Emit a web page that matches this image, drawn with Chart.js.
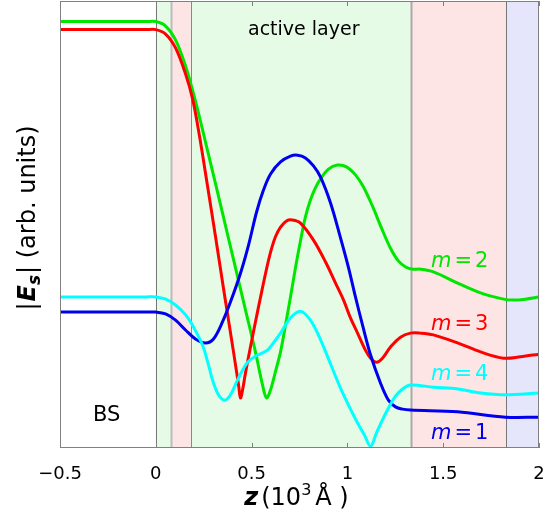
<!DOCTYPE html>
<html>
<head>
<meta charset="utf-8">
<script src="https://cdn.jsdelivr.net/npm/chart.js@4.4.0/dist/chart.umd.min.js"></script>
<style>
  html, body { margin: 0; padding: 0; background: #fff; }
</style>
</head>
<body>
<canvas id="chart" width="545" height="516"></canvas>
<script>
// layer boundaries along z (10^3 Å)
const layerEdges = [0, 0.08, 0.183, 1.33, 1.83];
const zTicks = [-0.5, 0, 0.5, 1, 1.5, 2];

// |E_s| curves (arb. units, 0..100)
const m1Z = [-0.5, -0.05, 0, 0.051, 0.103, 0.155, 0.207, 0.259, 0.301, 0.348, 0.390, 0.442, 0.484, 0.526, 0.562, 0.599, 0.651, 0.703, 0.740, 0.781, 0.823, 0.860, 0.912, 0.964, 1.006, 1.042, 1.079, 1.121, 1.173, 1.214, 1.251, 1.288, 1.329, 1.575, 1.825, 2.0];
const m1E = [30.4, 30.4, 30.4, 30.0, 28.6, 26.4, 24.4, 23.5, 24.4, 28.2, 32.7, 39.1, 45.4, 52.8, 57.7, 61.3, 64.0, 65.3, 65.5, 64.9, 63.1, 60.6, 54.8, 47.0, 40.3, 33.8, 27.5, 20.8, 14.5, 10.7, 9.2, 8.7, 8.5, 8.1, 6.9, 6.9];

const m2Z = [-0.5, -0.05, 0, 0.051, 0.103, 0.155, 0.207, 0.259, 0.312, 0.364, 0.416, 0.468, 0.520, 0.557, 0.578, 0.599, 0.624, 0.651, 0.677, 0.703, 0.729, 0.755, 0.781, 0.807, 0.833, 0.860, 0.901, 0.948, 0.995, 1.042, 1.084, 1.131, 1.178, 1.225, 1.267, 1.304, 1.340, 1.381, 1.449, 1.575, 1.695, 1.815, 1.867, 1.929, 2.0];
const m2E = [95.4, 95.4, 95.4, 94.4, 91.3, 85.5, 77.6, 68.5, 59.1, 49.7, 40.3, 30.9, 21.5, 14.1, 11.2, 13.0, 17.0, 21.5, 27.5, 33.8, 40.3, 46.3, 51.7, 55.5, 58.2, 60.2, 62.4, 63.3, 62.9, 61.1, 58.4, 54.1, 49.2, 44.7, 41.8, 40.5, 40.0, 40.0, 39.4, 36.9, 34.7, 33.3, 33.1, 33.3, 33.8];

const m3Z = [-0.5, -0.05, 0, 0.051, 0.103, 0.155, 0.192, 0.228, 0.270, 0.312, 0.353, 0.395, 0.416, 0.432, 0.442, 0.453, 0.468, 0.494, 0.520, 0.546, 0.573, 0.599, 0.624, 0.651, 0.682, 0.713, 0.755, 0.823, 0.886, 0.938, 0.980, 1.016, 1.053, 1.094, 1.121, 1.152, 1.183, 1.225, 1.277, 1.329, 1.381, 1.449, 1.575, 1.695, 1.815, 1.903, 2.0];
const m3E = [93.6, 93.6, 93.6, 92.6, 89.5, 83.7, 78.1, 69.8, 58.6, 47.2, 35.8, 24.4, 18.6, 14.1, 11.2, 13.0, 16.8, 22.6, 28.2, 33.6, 39.1, 43.8, 47.2, 49.4, 50.8, 51.0, 50.3, 46.5, 41.6, 36.9, 33.1, 29.1, 25.7, 21.9, 20.1, 19.2, 20.1, 22.6, 24.8, 25.7, 25.7, 25.3, 23.5, 21.5, 20.1, 20.4, 21.0];

const m4Z = [-0.5, -0.05, 0, 0.051, 0.103, 0.155, 0.191, 0.244, 0.275, 0.296, 0.327, 0.359, 0.390, 0.426, 0.453, 0.479, 0.505, 0.531, 0.557, 0.583, 0.614, 0.651, 0.703, 0.755, 0.807, 0.860, 0.912, 0.964, 1.016, 1.053, 1.089, 1.121, 1.152, 1.183, 1.209, 1.251, 1.288, 1.329, 1.449, 1.575, 1.695, 1.825, 2.0];
const m4E = [33.8, 33.8, 33.8, 33.3, 32.0, 29.8, 27.5, 23.0, 18.6, 15.2, 11.9, 10.7, 11.9, 15.2, 17.4, 19.2, 20.1, 20.8, 21.3, 21.9, 23.5, 25.7, 29.1, 30.6, 28.6, 24.2, 18.8, 13.4, 8.7, 5.6, 2.9, 0.4, 3.4, 6.3, 8.5, 11.6, 13.2, 14.1, 13.6, 13.2, 12.3, 11.9, 12.3];

function pts(zs, es) {
  return zs.map((z, i) => ({ x: z, y: es[i] }));
}

function curve(label, zs, es, color) {
  return {
    label: label,
    data: pts(zs, es),
    borderColor: color,
    borderWidth: 3,
    pointRadius: 0,
    fill: false,
    tension: 0.35
  };
}

// draw a run of text pieces with their own fonts / vertical shifts
function drawParts(ctx, parts, x, y) {
  parts.forEach(p => {
    ctx.font = p.font;
    ctx.fillStyle = p.color || '#000';
    ctx.fillText(p.text, x, y + (p.dy || 0));
    x += ctx.measureText(p.text).width + (p.gap || 0);
  });
}

function partsWidth(ctx, parts) {
  let w = 0;
  parts.forEach(p => {
    ctx.font = p.font;
    w += ctx.measureText(p.text).width + (p.gap || 0);
  });
  return w;
}

const FONT = 'DejaVu Sans';

const layersPlugin = {
  id: 'layers',
  beforeDatasetsDraw(chart) {
    const { ctx, chartArea: a, scales: { x } } = chart;
    const fills = ['#e6fbe6', '#fde5e5', '#e6fbe6', '#fde5e5', '#e5e5fb'];
    ctx.save();
    for (let i = 0; i < layerEdges.length; i++) {
      const x0 = x.getPixelForValue(layerEdges[i]);
      const x1 = i + 1 < layerEdges.length ? x.getPixelForValue(layerEdges[i + 1]) : a.right;
      ctx.fillStyle = fills[i];
      ctx.fillRect(x0, a.top, x1 - x0, a.bottom - a.top);
    }
    const lineCols = ['#777', '#bbb', '#888', '#aaa', '#777'];
    const lineW = [1, 2, 1, 2, 1];
    layerEdges.forEach((z, i) => {
      const px = Math.round(x.getPixelForValue(z)) + 0.5;
      ctx.strokeStyle = lineCols[i];
      ctx.lineWidth = lineW[i];
      ctx.beginPath();
      ctx.moveTo(px, a.top);
      ctx.lineTo(px, a.bottom);
      ctx.stroke();
    });
    ctx.restore();
  },
  afterDatasetsDraw(chart) {
    const { ctx, chartArea: a, scales: { x } } = chart;
    ctx.save();
    // frame
    ctx.strokeStyle = '#808080';
    ctx.lineWidth = 1;
    ctx.strokeRect(a.left + 0.5, a.top + 0.5, a.right - a.left - 1, a.bottom - a.top - 1);
    // inward ticks
    zTicks.forEach(t => {
      const px = Math.round(x.getPixelForValue(t)) + 0.5;
      ctx.beginPath();
      ctx.moveTo(px, a.bottom);
      ctx.lineTo(px, a.bottom - 5);
      ctx.moveTo(px, a.top);
      ctx.lineTo(px, a.top + 5);
      ctx.stroke();
    });

    ctx.textBaseline = 'alphabetic';
    ctx.textAlign = 'left';
    ctx.fillStyle = '#000';
    ctx.font = '19px "' + FONT + '"';
    ctx.fillText('active layer', 248, 35);
    ctx.font = '21px "' + FONT + '"';
    ctx.fillText('BS', 93, 421);

    // mode labels
    const modes = [
      { n: '2', col: '#00e600', y: 267 },
      { n: '3', col: '#ff0000', y: 330 },
      { n: '4', col: '#00ffff', y: 380 },
      { n: '1', col: '#0000ee', y: 439 }
    ];
    modes.forEach(m => {
      drawParts(ctx, [
        { text: 'm', font: 'italic 21px "' + FONT + '"', color: m.col, gap: 3 },
        { text: '=', font: '21px "' + FONT + '"', color: m.col, gap: 3 },
        { text: m.n, font: '21px "' + FONT + '"', color: m.col }
      ], 431, m.y);
    });

    // x title
    const xt = [
      { text: 'z', font: 'bold italic 24px "' + FONT + '"', gap: 3 },
      { text: '(10', font: '24px "' + FONT + '"' },
      { text: '3', font: '16px "' + FONT + '"', dy: -10, gap: 4 },
      { text: 'Å )', font: '24px "' + FONT + '"' }
    ];
    const xw = partsWidth(ctx, xt);
    drawParts(ctx, xt, (a.left + a.right) / 2 - xw / 2 - 3, 505);

    // y title (rotated)
    const yt = [
      { text: '|', font: '24px "' + FONT + '"', gap: 1 },
      { text: 'E', font: 'bold italic 24px "' + FONT + '"' },
      { text: 's', font: 'bold italic 17px "' + FONT + '"', dy: 5, gap: 1 },
      { text: '| (arb. units)', font: '24px "' + FONT + '"' }
    ];
    const yw = partsWidth(ctx, yt);
    ctx.translate(35, 218);
    ctx.rotate(-Math.PI / 2);
    drawParts(ctx, yt, -yw / 2, 0);
    ctx.restore();
  }
};

new Chart(document.getElementById('chart'), {
  type: 'line',
  data: {
    datasets: [
      curve('m=4', m4Z, m4E, '#00ffff'),
      curve('m=1', m1Z, m1E, '#0000ee'),
      curve('m=3', m3Z, m3E, '#ff0000'),
      curve('m=2', m2Z, m2E, '#00e600')
    ]
  },
  options: {
    responsive: false,
    devicePixelRatio: 1,
    animation: false,
    layout: { padding: { left: 60, right: 6, top: 1, bottom: 0 } },
    plugins: { legend: { display: false }, tooltip: { enabled: false } },
    scales: {
      x: {
        type: 'linear',
        min: -0.5,
        max: 2,
        afterBuildTicks: s => { s.ticks = zTicks.map(v => ({ value: v })); },
        afterFit: s => { s.height = 68; s.paddingLeft = 0; s.paddingRight = 0; },
        grid: { display: false },
        border: { display: false },
        ticks: {
          padding: 8,
          autoSkip: false,
          maxRotation: 0,
          color: '#000',
          font: { family: FONT, size: 18 },
          callback: v => String(v).replace('-', '\u2212')
        }
      },
      y: { display: false, min: 0, max: 100 }
    }
  },
  plugins: [layersPlugin]
});
</script>
</body>
</html>
